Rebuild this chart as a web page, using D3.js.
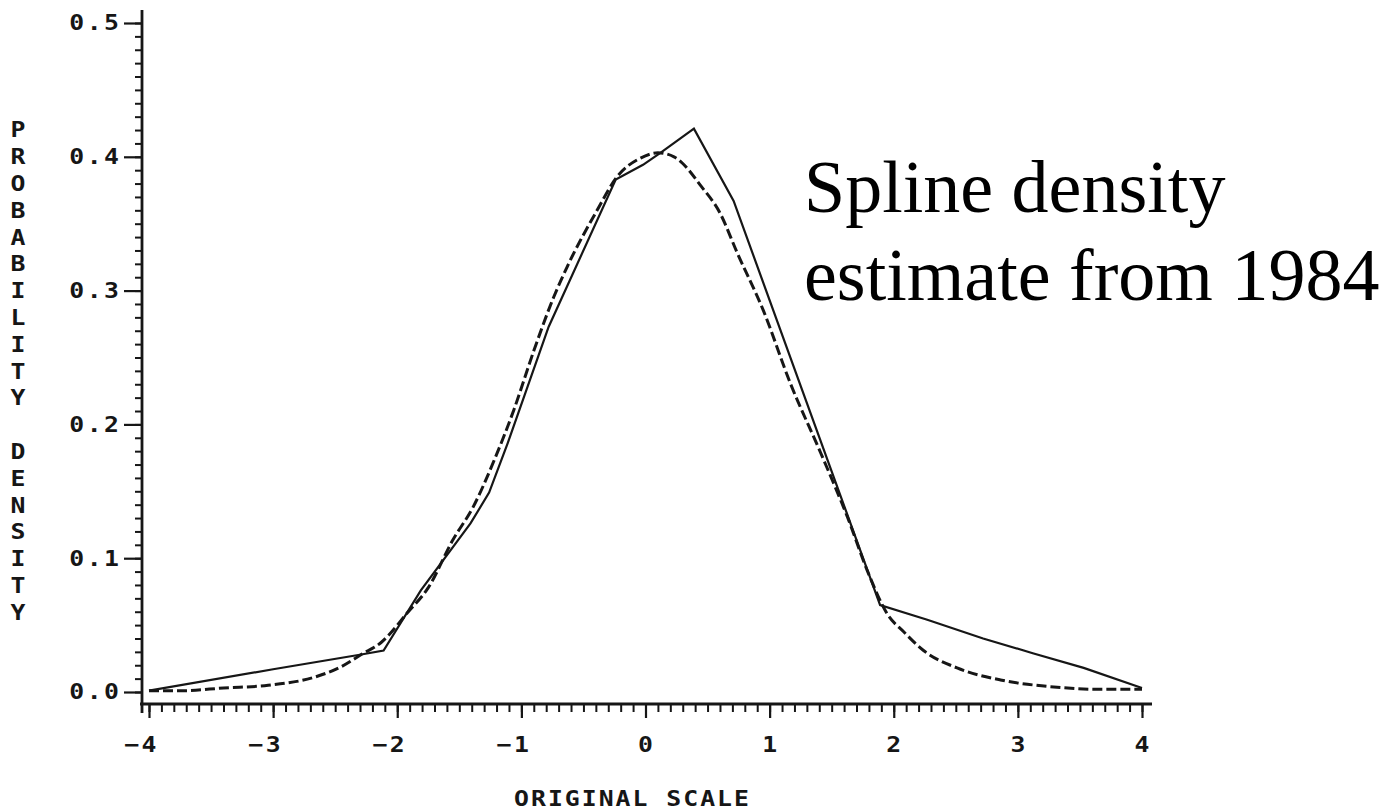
<!DOCTYPE html>
<html>
<head>
<meta charset="utf-8">
<script src="https://cdn.jsdelivr.net/npm/d3@7"></script>
<style>
  html, body { margin: 0; padding: 0; background: #fff; }
  svg { display: block; }
  .plotter { font-family: 'DejaVu Sans Mono', monospace; font-weight: bold; fill: #161616; }
  .note { font-family: 'Liberation Serif', 'Times New Roman', serif; fill: #000; }
</style>
</head>
<body>
<div id="chart"></div>
<script>
"use strict";

// Tick values and their plotter-style labels
const xTicks = [-4, -3, -2, -1, 0, 1, 2, 3, 4];
const xTickLabels = ['\u22124', '\u22123', '\u22122', '\u22121', '0', '1', '2', '3', '4'];
const yTicks = [0, 0.1, 0.2, 0.3, 0.4, 0.5];
const yTickLabels = ['0.0', '0.1', '0.2', '0.3', '0.4', '0.5'];

// Solid curve: piecewise linear estimate (vertices)
const solidX = [-4.00, -3.00, -2.29, -2.11, -1.81, -1.41, -1.26, -1.11, -0.78,
                -0.24, -0.02, 0.12, 0.39, 0.71, 1.89, 2.27, 2.72, 3.12, 3.53, 4.00];
const solidY = [0.001, 0.017, 0.028, 0.031, 0.076, 0.126, 0.149, 0.186, 0.273,
                0.383, 0.394, 0.403, 0.421, 0.367, 0.065, 0.054, 0.040, 0.029, 0.018, 0.003];

// Dashed curve: smooth reference density
const dashedX = [-4.00, -3.72, -3.40, -3.04, -2.67, -2.45, -2.29, -2.13, -1.92,
                 -1.75, -1.55, -1.39, -1.22, -1.06, -0.90, -0.74, -0.63, -0.39,
                 -0.23, -0.04, 0.10, 0.23, 0.30, 0.44, 0.60, 0.74, 0.95, 1.17,
                 1.41, 1.63, 1.79, 1.95, 2.08, 2.24, 2.51, 2.86, 3.26, 3.66, 4.00];
const dashedY = [0.001, 0.001, 0.003, 0.005, 0.011, 0.019, 0.028, 0.037, 0.059,
                 0.078, 0.114, 0.138, 0.173, 0.211, 0.255, 0.295, 0.318, 0.360,
                 0.385, 0.399, 0.403, 0.400, 0.395, 0.379, 0.358, 0.328, 0.285, 0.230,
                 0.179, 0.130, 0.090, 0.058, 0.045, 0.031, 0.018, 0.009, 0.004, 0.002, 0.002];

const yTitle = 'PROBABILITY DENSITY';
const xTitle = 'ORIGINAL SCALE';
const noteLines = ['Spline density', 'estimate from 1984'];

function drawChart(parent) {
    const width = 1396, height = 811;
    const ink = '#161616';
    const stretch = 1.18;  // Plotter glyphs are wider than DejaVu's
    const spacing = 2.1;   // Extra pitch between plotter letters

    let svg = d3.select(parent).append('svg')
        .attr('width', width)
        .attr('height', height);

    let x = d3.scaleLinear().domain([-4, 4]).range([149, 1142]);
    let y = d3.scaleLinear().domain([0, 0.5]).range([692, 23]);
    // Axes are drawn slightly outside the data frame, like the old plotter
    let axisX = x(-4) - 7;
    let axisY = y(0) + 12;

    // Minor ticks every 0.01 (y) and 0.1 (x), majors on the labelled values
    let minorY = d3.range(0, 50.5).map(function (i) { return i / 100; });
    let minorX = d3.range(-40, 40.5).map(function (i) { return i / 10; });

    function styleTicks(g, w) {
        g.select('.domain').remove();
        g.selectAll('line').attr('stroke', ink).attr('stroke-width', w);
    }

    // Stretched monospace text, placed with a transform
    function plotterText(sel, ls) {
        sel.classed('plotter', true)
            .attr('dominant-baseline', 'central')
            .style('font-size', '21px')
            .style('letter-spacing', ls + 'px');
    }
    function place(px, py) {
        return 'translate(' + px + ',' + py + ') scale(' + stretch + ',1)';
    }

    svg.append('g')
        .attr('transform', 'translate(' + axisX + ',0)')
        .call(d3.axisLeft(y).tickValues(minorY).tickSize(7).tickFormat(''))
        .call(styleTicks, 2);
    svg.append('g')
        .attr('transform', 'translate(' + axisX + ',0)')
        .call(d3.axisLeft(y).tickValues(yTicks).tickSize(18).tickFormat(''))
        .call(styleTicks, 2.2);
    svg.append('g')
        .attr('transform', 'translate(0,' + axisY + ')')
        .call(d3.axisBottom(x).tickValues(minorX).tickSize(8).tickFormat(''))
        .call(styleTicks, 2);
    svg.append('g')
        .attr('transform', 'translate(0,' + axisY + ')')
        .call(d3.axisBottom(x).tickValues(xTicks).tickSize(14).tickFormat(''))
        .call(styleTicks, 2.2);

    // Axis lines
    svg.append('line')
        .attr('x1', axisX).attr('x2', axisX)
        .attr('y1', y(0.5) - 13).attr('y2', axisY + 9)
        .attr('stroke', ink).attr('stroke-width', 2.8);
    svg.append('line')
        .attr('x1', axisX - 2).attr('x2', x(4) + 10)
        .attr('y1', axisY).attr('y2', axisY)
        .attr('stroke', ink).attr('stroke-width', 2.8);

    // Tick labels (letter-spacing also trails the last glyph, so shift back)
    svg.append('g').selectAll('text')
        .data(yTicks)
        .enter().append('text')
            .call(plotterText, spacing)
            .attr('transform', function (d) { return place(axisX - 23, y(d)); })
            .attr('x', spacing)
            .attr('text-anchor', 'end')
            .text(function (d, i) { return yTickLabels[i]; });
    svg.append('g').selectAll('text')
        .data(xTicks)
        .enter().append('text')
            .call(plotterText, spacing)
            .attr('transform', function (d) { return place(x(d) + 7.5, axisY + 41); })
            .attr('x', spacing)
            .attr('text-anchor', 'end')
            .text(function (d, i) { return xTickLabels[i]; });

    // Axis titles: stacked letters on the left, centred text below
    svg.append('g').selectAll('text')
        .data(yTitle.split(''))
        .enter().append('text')
            .call(plotterText, 0)
            .attr('transform', function (d, i) { return place(18, 130 + i * 26.8); })
            .attr('text-anchor', 'middle')
            .text(function (d) { return d; });
    svg.append('text')
        .call(plotterText, 1.7)
        .attr('transform', place(x(0) - 14, axisY + 95))
        .attr('x', 0.85)
        .attr('text-anchor', 'middle')
        .text(xTitle);

    // The two density curves
    let solid = d3.zip(solidX, solidY);
    let dashed = d3.zip(dashedX, dashedY);
    let line = d3.line()
        .x(function (d) { return x(d[0]); })
        .y(function (d) { return y(d[1]); });

    svg.append('path')
        .datum(dashed)
        .attr('fill', 'none')
        .attr('stroke', ink)
        .attr('stroke-width', 3)
        .attr('stroke-dasharray', '10,4')
        .attr('d', line.curve(d3.curveMonotoneX));
    svg.append('path')
        .datum(solid)
        .attr('fill', 'none')
        .attr('stroke', ink)
        .attr('stroke-width', 2.2)
        .attr('stroke-linejoin', 'miter')
        .attr('d', line.curve(d3.curveLinear));

    // Annotation in a serif face
    svg.append('g').selectAll('text')
        .data(noteLines)
        .enter().append('text')
            .classed('note', true)
            .attr('x', 804)
            .attr('y', function (d, i) { return 212 + i * 88; })
            .style('font-size', '74px')
            .text(function (d) { return d; });
}

drawChart(document.getElementById('chart'));
</script>
</body>
</html>
